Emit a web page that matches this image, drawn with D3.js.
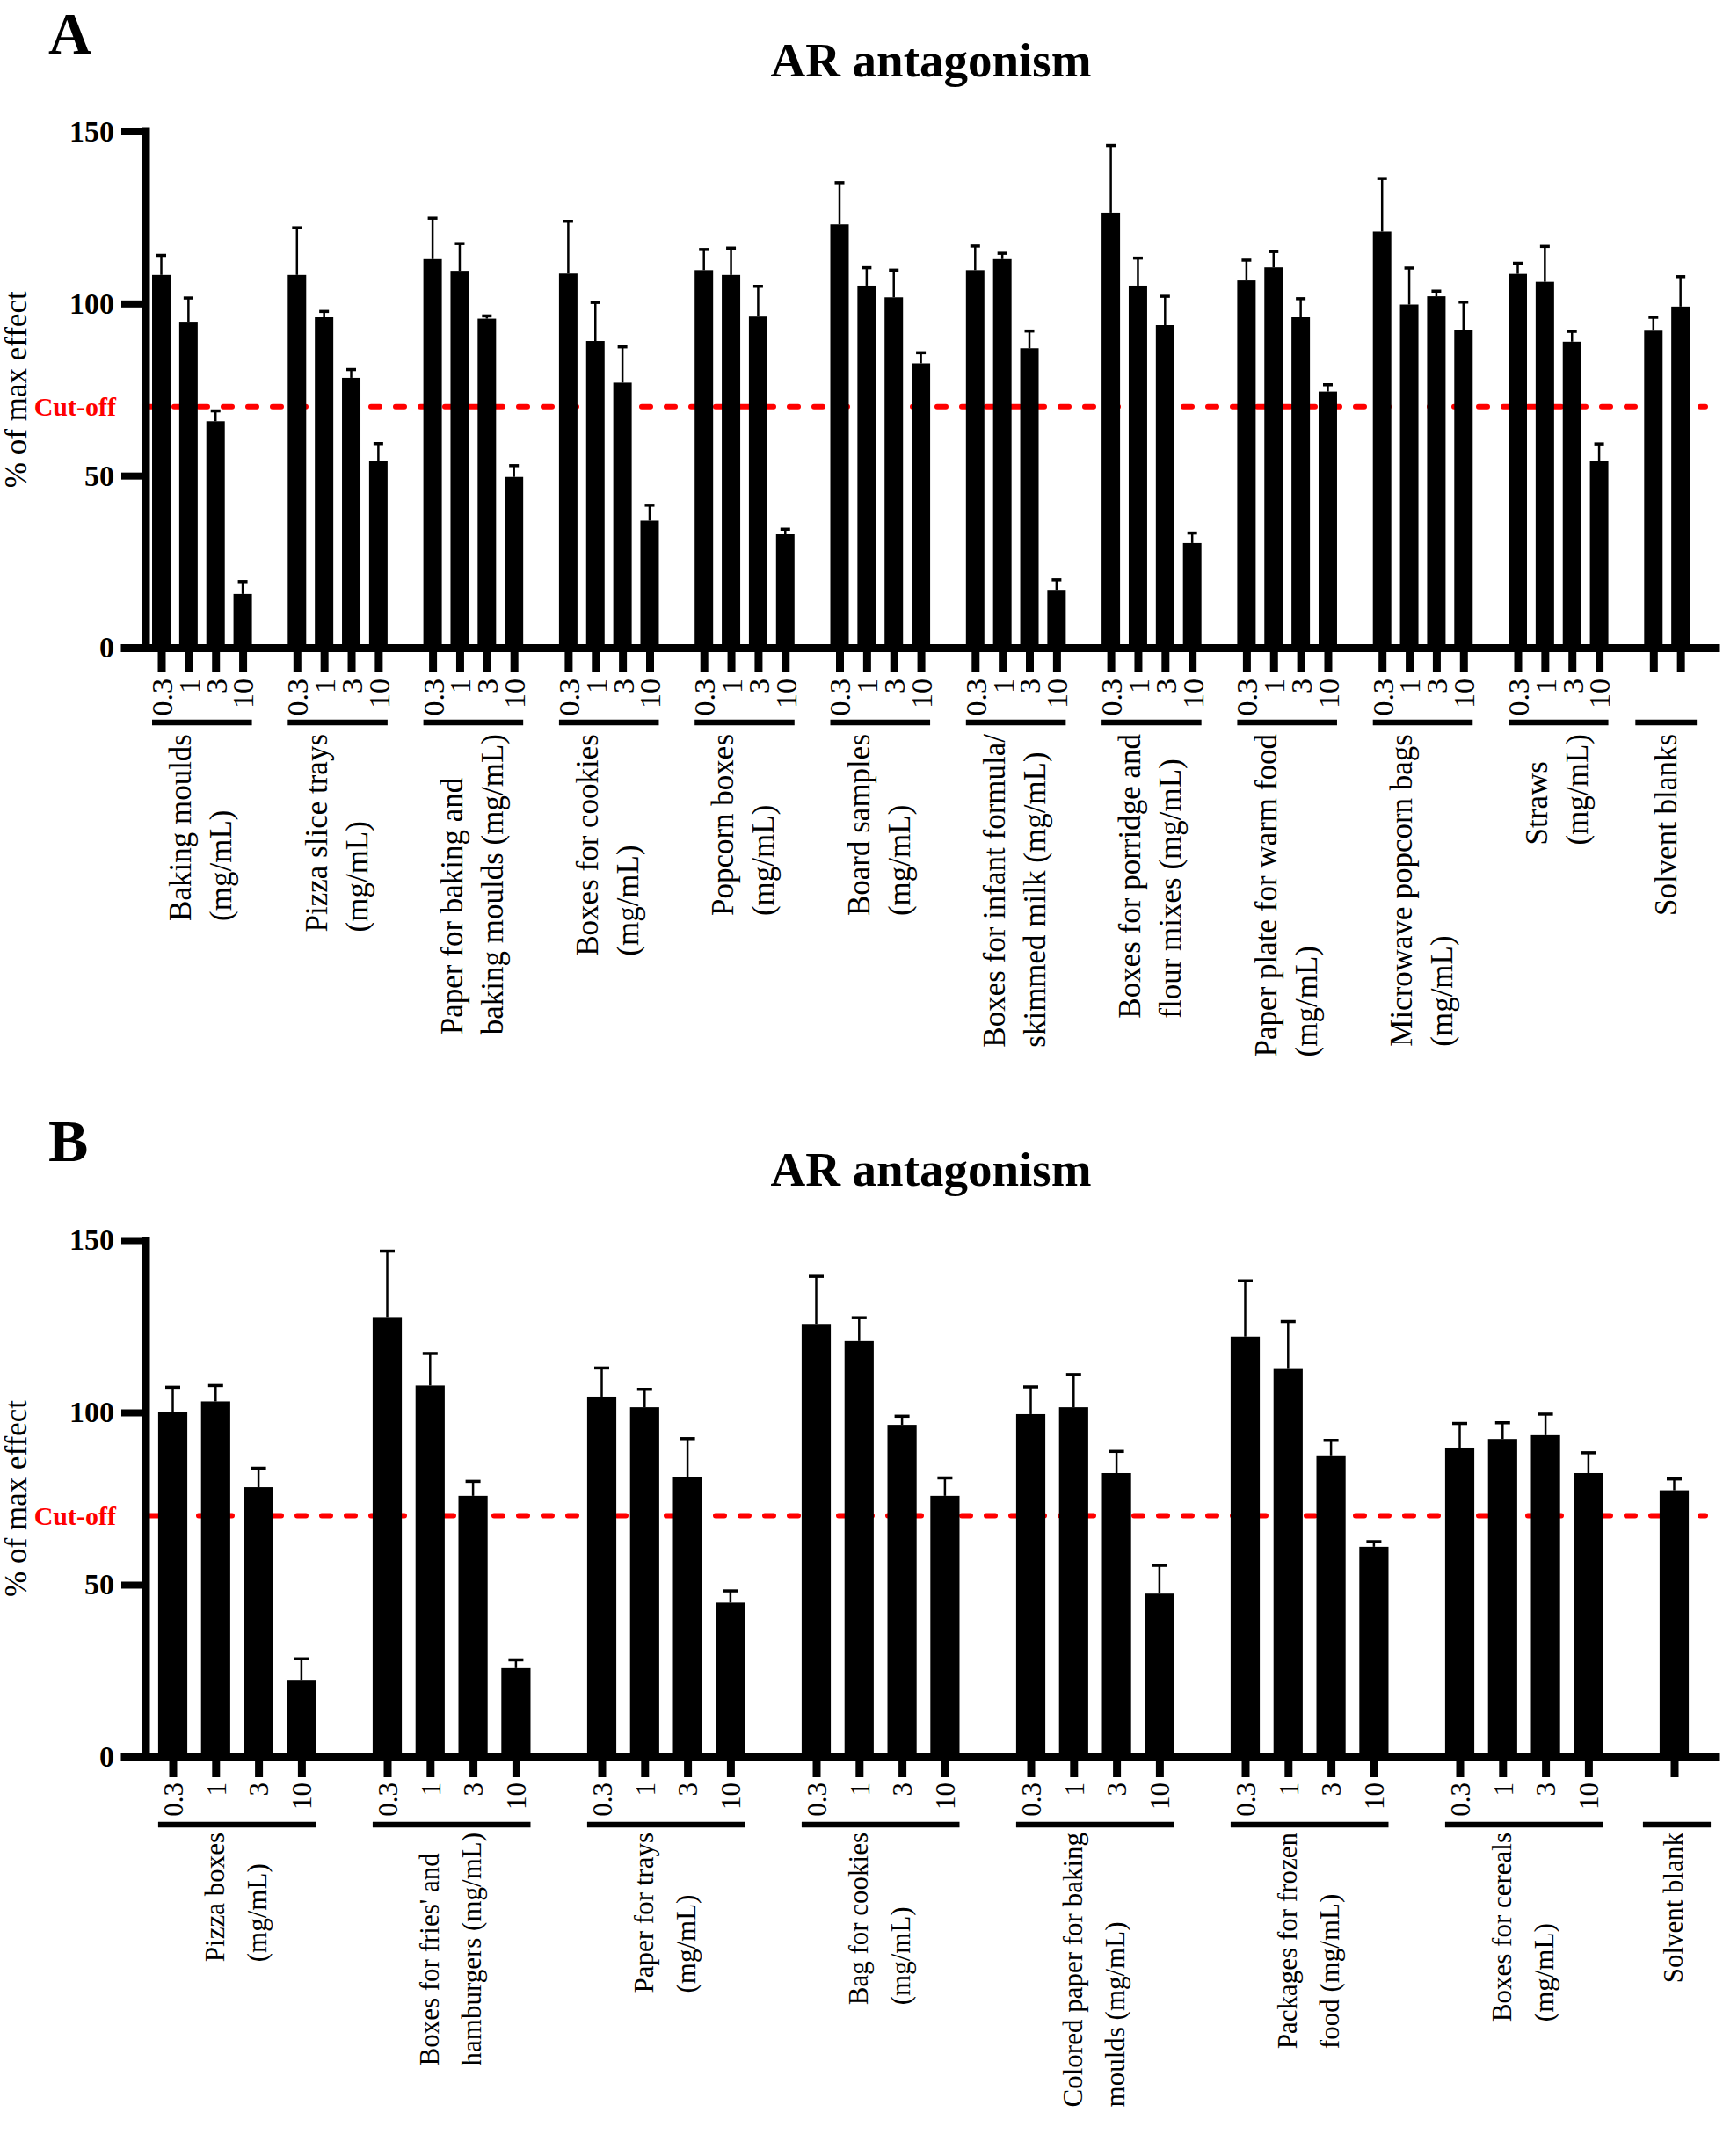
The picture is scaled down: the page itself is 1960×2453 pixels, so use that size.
<!DOCTYPE html>
<html><head><meta charset="utf-8">
<script src="https://cdn.jsdelivr.net/npm/d3@7"></script>
<style>
body{margin:0;background:#fff}
svg{display:block}
text{font-family:"Liberation Serif","Times New Roman",Times,serif}
</style>
</head><body>
<svg id="chart" width="1960" height="2453"></svg>
<script>
// ---------------- DATA ----------------
const concLabels = ["0.3", "1", "3", "10"];
const yTickValues = [0, 50, 100, 150];
const cutoffValue = 70;
const chartTitle = "AR antagonism";
const yAxisTitle = "% of max effect";

const groupsA = [
  ["Baking moulds", "(mg/mL)"],
  ["Pizza slice trays", "(mg/mL)"],
  ["Paper for baking and", "baking moulds (mg/mL)"],
  ["Boxes for cookies", "(mg/mL)"],
  ["Popcorn boxes", "(mg/mL)"],
  ["Board samples", "(mg/mL)"],
  ["Boxes for infant formula/", "skimmed milk (mg/mL)"],
  ["Boxes for porridge and", "flour mixes (mg/mL)"],
  ["Paper plate for warm food", "(mg/mL)"],
  ["Microwave popcorn bags", "(mg/mL)"],
  ["Straws", "(mg/mL)"]
];
const meansA = [
  [108.3, 94.7, 65.8, 15.6],
  [108.3, 96.0, 78.4, 54.3],
  [112.9, 109.5, 95.6, 49.6],
  [108.7, 89.1, 77.0, 36.9],
  [109.7, 108.3, 96.2, 33.0],
  [123.0, 105.2, 101.8, 82.6],
  [109.7, 112.9, 87.0, 16.8],
  [126.4, 105.2, 93.7, 30.4],
  [106.7, 110.5, 96.0, 74.4],
  [120.9, 99.7, 102.1, 92.3],
  [108.6, 106.3, 88.9, 54.2]
];
const errA = [
  [5.7, 6.9, 3.0, 3.6],
  [13.7, 1.7, 2.4, 5.0],
  [11.9, 7.9, 0.8, 3.3],
  [15.2, 11.2, 10.4, 4.5],
  [6.0, 7.8, 8.8, 1.4],
  [12.1, 5.2, 7.9, 3.1],
  [7.0, 1.7, 5.0, 2.9],
  [19.5, 8.0, 8.4, 2.9],
  [5.9, 4.6, 5.4, 2.0],
  [15.4, 10.6, 1.5, 8.1],
  [3.1, 10.3, 3.0, 5.0]
];
const blankLabelA = "Solvent blanks";
const blankMeansA = [92.1, 99.1];
const blankErrA = [3.9, 8.7];

const groupsB = [
  ["Pizza boxes", "(mg/mL)"],
  ["Boxes for fries' and", "hamburgers (mg/mL)"],
  ["Paper for trays", "(mg/mL)"],
  ["Bag for cookies", "(mg/mL)"],
  ["Colored paper for baking", "moulds (mg/mL)"],
  ["Packages for frozen", "food (mg/mL)"],
  ["Boxes for cereals", "(mg/mL)"]
];
const meansB = [
  [100.1, 103.2, 78.3, 22.4],
  [127.7, 107.8, 75.8, 25.8],
  [104.6, 101.5, 81.3, 44.8],
  [125.7, 120.7, 96.4, 75.8],
  [99.5, 101.5, 82.4, 47.4],
  [122.0, 112.6, 87.3, 61.0],
  [89.8, 92.3, 93.4, 82.4]
];
const errB = [
  [7.2, 4.6, 5.5, 6.1],
  [19.1, 9.3, 4.2, 2.4],
  [8.3, 5.2, 11.1, 3.4],
  [13.8, 6.8, 2.5, 5.2],
  [7.9, 9.5, 6.3, 8.2],
  [16.2, 13.8, 4.6, 1.5],
  [7.0, 4.7, 6.1, 5.9]
];
const blankLabelB = "Solvent blank";
const blankMeansB = [77.4];
const blankErrB = [3.3];

// ---------------- LAYOUT ----------------
const svg = d3.select("#chart");
const RED = "#ff0000";

const cfgA = {
  letter: "A", letterY: 61, titleY: 87,
  y0: 737, yTop: 149.5,
  slot0: 183.5, step: 30.86, barFrac: 0.68, capW: 11,
  tickLen: 28, concTop: 35, concFont: 34,
  lineY: 85, groupTop: 98, groupFont: 35, lineGap: 46,
  blankPadL: 10, blankPadR: 8
};
const cfgB = {
  letter: "B", letterY: 1321, titleY: 1349,
  y0: 1999, yTop: 1411,
  slot0: 196.5, step: 48.8, barFrac: 0.68, capW: 17,
  tickLen: 23, concTop: 29, concFont: 31,
  lineY: 77, groupTop: 86, groupFont: 31, lineGap: 48.5,
  blankPadL: 19, blankPadR: 25
};

const axisX = 166, axisLeft = 137, axisRight = 1956;

function drawPanel(cfg, groups, means, errs, blankLabel, blankMeans, blankErrs) {
  const g = svg.append("g");
  const y = d3.scaleLinear().domain([0, 150]).range([cfg.y0, cfg.yTop]);
  const x = d3.scaleLinear()
    .domain([(axisLeft - cfg.slot0) / cfg.step, (axisRight - cfg.slot0) / cfg.step])
    .range([axisLeft, axisRight]);
  const bw = cfg.step * cfg.barFrac;

  const bars = [];
  groups.forEach((lines, gi) => means[gi].forEach((m, j) =>
    bars.push({slot: gi * 5 + j, mean: m, err: errs[gi][j], label: concLabels[j]})));
  const nb = groups.length * 5;
  blankMeans.forEach((m, k) => bars.push({slot: nb + k, mean: m, err: blankErrs[k], label: ""}));

  const blocks = groups.map((lines, gi) => ({lines, s0: gi * 5, s1: gi * 5 + 3, padL: 0, padR: 0}));
  blocks.push({lines: [blankLabel], s0: nb, s1: nb + blankMeans.length - 1, padL: cfg.blankPadL, padR: cfg.blankPadR});

  // panel letter & title
  g.append("text").attr("x", 55).attr("y", cfg.letterY)
    .attr("font-size", 68).attr("font-weight", "bold").text(cfg.letter);
  g.append("text").attr("x", 1059).attr("y", cfg.titleY).attr("text-anchor", "middle")
    .attr("font-size", 55).attr("font-weight", "bold").text(chartTitle);

  // cut-off line (behind bars)
  g.append("line")
    .attr("x1", axisX + 4).attr("x2", 1940)
    .attr("y1", y(cutoffValue)).attr("y2", y(cutoffValue))
    .attr("stroke", RED).attr("stroke-width", 6)
    .attr("stroke-dasharray", "10,18").attr("stroke-linecap", "round");
  g.append("text").attr("x", 132).attr("y", y(cutoffValue)).attr("dy", "0.35em")
    .attr("text-anchor", "end").attr("font-size", 30).attr("font-weight", "bold")
    .attr("fill", RED).text("Cut-off");

  // bars
  g.append("g").selectAll("rect").data(bars).join("rect")
    .attr("x", d => x(d.slot) - bw / 2).attr("width", bw)
    .attr("y", d => y(d.mean)).attr("height", d => y(0) - y(d.mean))
    .attr("fill", "#000");

  // error bars
  const eb = g.append("g").attr("stroke", "#000");
  eb.selectAll("line.v").data(bars).join("line").attr("class", "v")
    .attr("x1", d => x(d.slot)).attr("x2", d => x(d.slot))
    .attr("y1", d => y(d.mean)).attr("y2", d => y(d.mean + d.err))
    .attr("stroke-width", 2.5);
  eb.selectAll("line.c").data(bars).join("line").attr("class", "c")
    .attr("x1", d => x(d.slot) - cfg.capW / 2).attr("x2", d => x(d.slot) + cfg.capW / 2)
    .attr("y1", d => y(d.mean + d.err)).attr("y2", d => y(d.mean + d.err))
    .attr("stroke-width", 3.5);

  // y axis
  const ya = g.append("g").attr("transform", `translate(${axisX},0)`)
    .call(d3.axisLeft(y).tickValues(yTickValues).tickSize(28).tickSizeOuter(0).tickPadding(8));
  ya.select(".domain").attr("stroke-width", 9).attr("d", `M0,${cfg.yTop - 4}V${cfg.y0}`);
  ya.selectAll(".tick line").attr("stroke-width", 8);
  ya.selectAll(".tick text").attr("font-size", 34).attr("font-weight", "bold")
    .attr("font-family", '"Liberation Serif","Times New Roman",serif').attr("fill", "#000");

  // x axis with concentration ticks
  const xa = g.append("g").attr("transform", `translate(0,${cfg.y0})`)
    .call(d3.axisBottom(x).tickValues(bars.map(d => d.slot)).tickSize(cfg.tickLen).tickSizeOuter(0)
      .tickFormat(s => (bars.find(b => b.slot === s) || {}).label || ""));
  xa.select(".domain").attr("stroke-width", 9);
  xa.selectAll(".tick line").attr("stroke-width", 9);
  xa.selectAll(".tick text")
    .attr("transform", "rotate(-90)")
    .attr("x", -cfg.concTop).attr("y", 0).attr("dy", "0.35em")
    .attr("text-anchor", "end")
    .attr("font-size", cfg.concFont)
    .attr("font-family", '"Liberation Serif","Times New Roman",serif').attr("fill", "#000");

  // y-axis title
  const yMid = y(75);
  g.append("text").attr("transform", `translate(18,${yMid}) rotate(-90)`)
    .attr("text-anchor", "middle").attr("dy", "0.35em").attr("font-size", 35).text(yAxisTitle);

  // group underlines + labels
  blocks.forEach(b => {
    const xl = x(b.s0) - bw / 2 - b.padL, xr = x(b.s1) + bw / 2 + b.padR;
    g.append("line").attr("x1", xl).attr("x2", xr)
      .attr("y1", cfg.y0 + cfg.lineY).attr("y2", cfg.y0 + cfg.lineY)
      .attr("stroke", "#000").attr("stroke-width", 6.5);
    const cx = (x(b.s0) + x(b.s1)) / 2;
    const texts = b.lines.map(t => g.append("text").attr("font-size", cfg.groupFont)
      .attr("text-anchor", "start").attr("dy", "0.3em").text(t));
    const maxLen = d3.max(texts, t => t.node().getComputedTextLength());
    const n = b.lines.length;
    texts.forEach((t, i) => {
      const lx = cx + (i - (n - 1) / 2) * cfg.lineGap;
      t.attr("transform", `translate(${lx},${cfg.y0 + cfg.groupTop + maxLen}) rotate(-90)`);
    });
  });
}

drawPanel(cfgA, groupsA, meansA, errA, blankLabelA, blankMeansA, blankErrA);
drawPanel(cfgB, groupsB, meansB, errB, blankLabelB, blankMeansB, blankErrB);
</script>
</body></html>
